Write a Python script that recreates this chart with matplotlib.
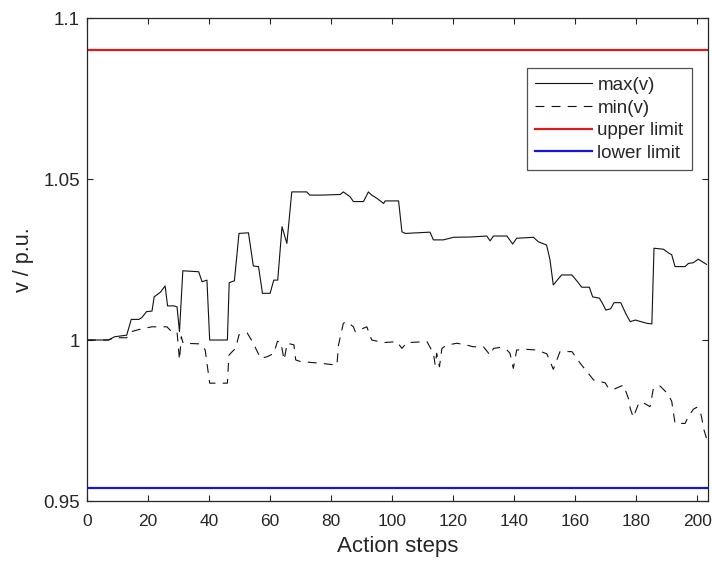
import matplotlib.pyplot as plt

plt.rcParams['font.family'] = ['Liberation Sans', 'DejaVu Sans']

# step index and bus voltage extremes (p.u.)
max_steps = [0, 7, 9, 13, 14.5, 17, 18, 19.5, 21.3, 22, 24, 25.6, 26.4, 28.5, 29.5, 30.3,
             31.4, 36.6, 37.7, 39.3, 40.2, 46, 46.6, 48.3, 49.8, 52.9, 54.5, 56.2, 57.5,
             60, 61.2, 62.5, 63.9, 65.5, 67.1, 72, 73, 77, 83, 84, 86.2, 87.3, 90.6, 92.2,
             93.3, 95, 97.2, 97.7, 102.1, 103.2, 104.3, 112.4, 113.5, 116.8, 120.1, 126,
             131, 132.1, 133.2, 137.6, 139.5, 140.8, 146.3, 147.9, 150.6, 151.7, 152.8,
             155.5, 158.9, 161, 162.1, 164.6, 165.7, 167.9, 168.9, 170, 171.6, 172.7,
             174.9, 176.5, 178, 179.7, 183.4, 185.1, 185.8, 188.9, 190.6, 191.6, 192.7,
             196, 197.1, 198.7, 200.3, 203]
max_v = [1.000, 1.000, 1.001, 1.0015, 1.0064, 1.0064, 1.0070, 1.0088, 1.0090, 1.0134,
         1.0148, 1.0168, 1.0106, 1.0106, 1.0103, 1.0026, 1.0215, 1.0212, 1.0181, 1.0186,
         1.0000, 1.0000, 1.0178, 1.0184, 1.0331, 1.0333, 1.0230, 1.0228, 1.0145, 1.0145,
         1.0186, 1.0186, 1.0352, 1.0300, 1.0460, 1.0460, 1.0450, 1.0450, 1.0452, 1.0460,
         1.0445, 1.0430, 1.0430, 1.0460, 1.0450, 1.0440, 1.0424, 1.0432, 1.0432, 1.0336,
         1.0331, 1.0335, 1.0311, 1.0311, 1.0319, 1.0320, 1.0323, 1.0308, 1.0323, 1.0323,
         1.0298, 1.0316, 1.0319, 1.0305, 1.0295, 1.0250, 1.0171, 1.0202, 1.0202, 1.0178,
         1.0164, 1.0164, 1.0134, 1.0130, 1.0114, 1.0093, 1.0097, 1.0116, 1.0116, 1.0083,
         1.0057, 1.0062, 1.0052, 1.0050, 1.0285, 1.0282, 1.0270, 1.0265, 1.0228, 1.0228,
         1.0238, 1.0240, 1.0251, 1.0235]

min_steps = [0, 7, 9, 13, 14.5, 18, 21.3, 26.2, 27.3, 29.5, 30.3, 30.9, 31.5, 37.1, 38.7,
             40.2, 46, 46.5, 47.6, 48.7, 49.8, 52.5, 54.2, 56.9, 59, 61.2, 62.4, 63.5,
             64.6, 65.6, 67.8, 68.4, 70, 76.4, 81.9, 82.4, 84, 85.2, 87.3, 87.9, 91.7,
             93.3, 97.2, 101.5, 103.2, 104.8, 111.4, 113.5, 114.1, 114.6, 115.5, 116.3,
             117.9, 121.2, 124.5, 126.6, 129.9, 132.1, 133.2, 135.4, 137.6, 138.6, 139.7,
             140.8, 144.1, 147.4, 150.7, 152.8, 155, 158.9, 161.6, 163.8, 166, 169.8,
             170.9, 172.6, 175.8, 177.4, 178, 179, 180.7, 181.8, 184.5, 185.6, 187.8,
             190.2, 191.6, 192.7, 196, 197, 198.7, 199.8, 200.9, 201.4, 202.2, 203]
min_v = [1.000, 1.000, 1.0007, 1.0007, 1.0026, 1.0035, 1.0041, 1.0041, 1.0030, 1.0026,
         0.9938, 1.0010, 0.9990, 0.9988, 0.9970, 0.9866, 0.9866, 0.9953, 0.9964, 0.9974,
         1.0016, 1.0022, 0.9995, 0.9943, 0.9948, 0.9958, 0.9996, 0.9993, 0.9938, 0.9990,
         0.9985, 0.9938, 0.9933, 0.9928, 0.9922, 0.9984, 1.0052, 1.0057, 1.0041, 1.0026,
         1.0041, 1.0000, 0.9992, 0.9995, 0.9974, 0.9992, 0.9995, 0.9959, 0.9922, 0.9959,
         0.9917, 0.9974, 0.9984, 0.9990, 0.9984, 0.9979, 0.9979, 0.9953, 0.9974, 0.9977,
         0.9969, 0.9959, 0.9912, 0.9969, 0.9971, 0.9969, 0.9957, 0.9909, 0.9964, 0.9964,
         0.9928, 0.9902, 0.9876, 0.9867, 0.9850, 0.9847, 0.9860, 0.9819, 0.9788, 0.9760,
         0.9801, 0.9808, 0.9793, 0.9850, 0.9857, 0.9834, 0.9810, 0.9741, 0.9741, 0.9762,
         0.9785, 0.9791, 0.9780, 0.9760, 0.9720, 0.9695]

upper_limit = 1.09
lower_limit = 0.954

x_ticks = [0, 20, 40, 60, 80, 100, 120, 140, 160, 180, 200]
y_ticks = [0.95, 1.0, 1.05, 1.1]
y_tick_labels = ['0.95', '1', '1.05', '1.1']

ink = '#262626'

fig = plt.figure(figsize=(7.12, 5.63), dpi=100)
ax = fig.add_axes([0.1222, 0.1101, 0.8722, 0.8579])

ax.plot(max_steps, max_v, color='#111111', lw=0.8, label='max(v)')
ax.plot(min_steps, min_v, color='#111111', lw=0.8, dashes=[8, 6.5], label='min(v)')
ax.axhline(upper_limit, color='#e01b1b', lw=1.6, label='upper limit')
ax.axhline(lower_limit, color='#1515e0', lw=1.6, label='lower limit')

ax.set_xlim(0, 203.5)
ax.set_ylim(0.95, 1.1)
ax.set_xticks(x_ticks)
ax.set_yticks(y_ticks)
ax.set_yticklabels(y_tick_labels)
ax.tick_params(direction='in', top=True, right=True, length=4, width=0.8, colors=ink)
ax.tick_params(axis='x', labelsize=12.5, pad=9.5)
ax.tick_params(axis='y', labelsize=13.5, pad=5)
for spine in ax.spines.values():
    spine.set_color(ink)
    spine.set_linewidth(0.9)

ax.set_xlabel('Action steps', fontsize=16, color=ink, labelpad=5)
ax.set_ylabel('v / p.u.', fontsize=15.5, color=ink, labelpad=7)

leg = ax.legend(loc='upper right', bbox_to_anchor=(0.974, 0.896), fontsize=13.5,
                frameon=True, fancybox=False, handlelength=3.0, handletextpad=0.3,
                borderpad=0.45, labelspacing=0.3, borderaxespad=0)
leg.get_frame().set_edgecolor(ink)
leg.get_frame().set_linewidth(0.9)
for text in leg.get_texts():
    text.set_color(ink)

fig.savefig('out.png', dpi=100)
